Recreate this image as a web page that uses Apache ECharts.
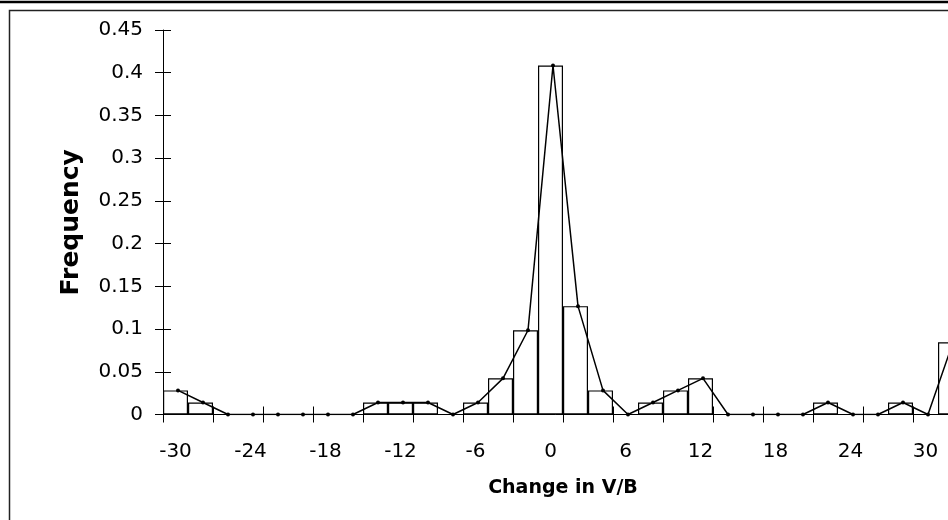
<!DOCTYPE html>
<html>
<head>
<meta charset="utf-8">
<script src="https://cdn.jsdelivr.net/npm/echarts@6/dist/echarts.min.js"></script>
<style>
html,body{margin:0;padding:0;background:#fff;}
#chart{width:948px;height:520px;}
</style>
</head>
<body>
<div id="chart"></div>
<script>
// Bin centres (Change in V/B)
var categories = [-30,-28,-26,-24,-22,-20,-18,-16,-14,-12,-10,-8,-6,-4,-2,0,2,4,6,8,10,12,14,16,18,20,22,24,26,28,30,32];
// Relative frequency of each bin
var frequency = [0.0282,0.0141,0,0,0,0,0,0,0.0141,0.0141,0.0141,0,0.0141,0.0423,0.0986,0.4085,0.1268,0.0282,0,0.0141,0.0282,0.0423,0,0,0,0,0.0141,0,0,0.0141,0,0.0845];
// Y tick settings
var yMin = 0, yMax = 0.45, yStep = 0.05;

var font = 'DejaVu Sans';
var chart = echarts.init(document.getElementById('chart'), null, {renderer:'canvas'});

var linePoints = categories.map(function(c, i){ return [c, frequency[i]]; });

var option = {
  animation: false,
  backgroundColor: '#fff',
  textStyle: {fontFamily: font, color: '#000'},
  graphic: [
    {type:'line', shape:{x1:0, y1:2, x2:948, y2:2}, style:{stroke:'#000', lineWidth:2.5}, z:100},
    {type:'rect', shape:{x:9.5, y:10.5, width:1000, height:600}, style:{fill:null, stroke:'#222', lineWidth:1.5}, z:100}
  ],
  grid: {left:163, top:30, right:-15, bottom:105.5, containLabel:false, outerBoundsMode:'none'},
  xAxis: [
    {
      type:'category', data: categories, position:'bottom', boundaryGap:true,
      axisLine:{show:true, onZero:false, lineStyle:{color:'#000', width:1}},
      axisTick:{show:true, interval:1, length:8, inside:false, lineStyle:{color:'#000', width:1}},
      axisLabel:{interval:2, margin:27, fontSize:20, fontFamily:font, color:'#000'},
      splitLine:{show:false},
      name:'Change in V/B', nameLocation:'middle', nameGap:64,
      nameTextStyle:{fontSize:19, fontWeight:'bold', fontFamily:font, color:'#000'}
    },
    {
      type:'value', min:-31.2, max:32.8, show:false, position:'bottom'
    },
    {
      type:'category', data: categories, position:'bottom', boundaryGap:true,
      axisLine:{show:false, onZero:false},
      axisTick:{show:true, interval:1, length:8, inside:true, lineStyle:{color:'#000', width:1}},
      axisLabel:{show:false}, splitLine:{show:false}
    }
  ],
  yAxis: [
    {
      type:'value', min:yMin, max:yMax, interval:yStep, position:'left',
      axisLine:{show:true, onZero:false, lineStyle:{color:'#000', width:1}},
      axisTick:{show:true, length:8, inside:false, lineStyle:{color:'#000', width:1}},
      axisLabel:{margin:20, fontSize:20, fontFamily:font, color:'#000'},
      splitLine:{show:false},
      name:'Frequency', nameLocation:'middle', nameGap:79, nameRotate:90,
      nameTextStyle:{fontSize:25, fontWeight:'bold', fontFamily:font, color:'#000'}
    },
    {
      type:'value', min:yMin, max:yMax, interval:yStep, position:'left',
      axisLine:{show:false, onZero:false},
      axisTick:{show:true, length:8, inside:true, lineStyle:{color:'#000', width:1}},
      axisLabel:{show:false}, splitLine:{show:false}
    }
  ],
  series: [
    {
      type:'bar', xAxisIndex:0, yAxisIndex:0, data: frequency,
      barCategoryGap:'0%', barGap:'0%',
      itemStyle:{color:'#fff', borderColor:'#000', borderWidth:1.2},
      z:2
    },
    {
      type:'line', xAxisIndex:1, yAxisIndex:0, data: linePoints,
      symbol:'circle', symbolSize:4, showSymbol:true,
      lineStyle:{color:'#000', width:1.5},
      itemStyle:{color:'#000'},
      z:3
    }
  ]
};
chart.setOption(option);
</script>
</body>
</html>
